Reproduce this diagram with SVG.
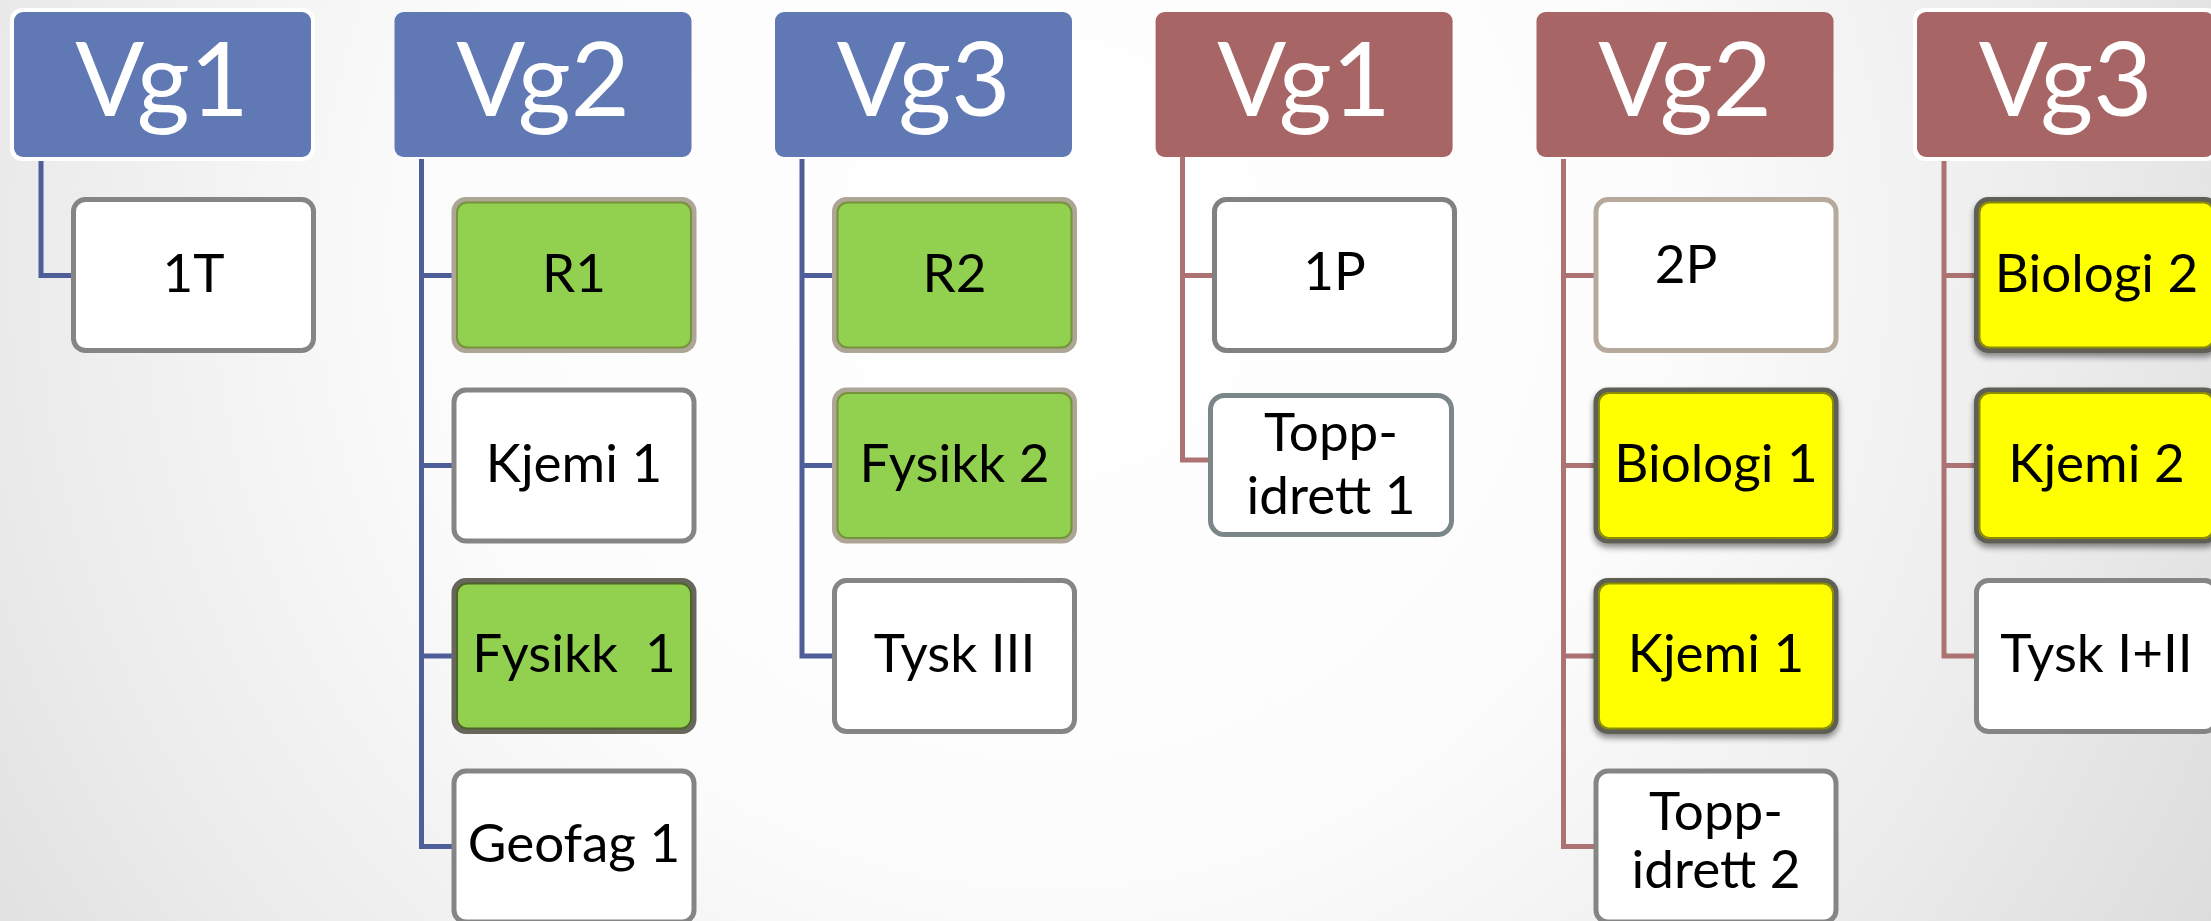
<svg xmlns="http://www.w3.org/2000/svg" width="2211" height="921" viewBox="0 0 2211 921">
<defs>
<radialGradient id="bg" gradientUnits="userSpaceOnUse" cx="1050" cy="260" r="1350">
<stop offset="0" stop-color="#ffffff"/>
<stop offset="0.45" stop-color="#fcfcfc"/>
<stop offset="0.75" stop-color="#ececec"/>
<stop offset="1" stop-color="#dcdcdc"/>
</radialGradient>
<filter id="sh" x="-10%" y="-10%" width="120%" height="130%">
<feGaussianBlur in="SourceAlpha" stdDeviation="3"/>
<feOffset dx="0" dy="4" result="b"/>
<feComponentTransfer><feFuncA type="linear" slope="0.45"/></feComponentTransfer>
<feMerge><feMergeNode/><feMergeNode in="SourceGraphic"/></feMerge>
</filter>
</defs>
<style>
.hb{fill:#6078b4}
.hr{fill:#a86565}
.glow{fill:#ffffff}
.ht{font-family:Lato,"Liberation Sans",sans-serif;font-size:102px;fill:#ffffff;text-anchor:middle}
.t{font-family:Lato,"Liberation Sans",sans-serif;font-size:53px;fill:#000000;text-anchor:middle}
.w{fill:#ffffff;stroke:#858585;stroke-width:5}
.g{fill:#92d050;stroke:#ada595;stroke-width:5}
.gi{fill:none;stroke:#76923c;stroke-width:2}
.y{fill:#ffff00;stroke:#5e5e55;stroke-width:5}
.yi{fill:none;stroke:#8c8c00;stroke-width:2}
.cb{fill:none;stroke:#4e5e99;stroke-width:5}
.cr{fill:none;stroke:#ad7373;stroke-width:5}
</style>
<rect x="0" y="0" width="2211" height="921" fill="url(#bg)"/>

<g id="connectors">
<path class="cb" d="M41 159 V275.5 H73"/>
<path class="cb" d="M421.5 159 V847 M419 275.5 H453 M419 465.5 H453 M419 656 H453 M419 846.5 H453"/>
<path class="cb" d="M802 159 V656.5 M799.5 275.5 H834 M799.5 465.5 H834 M799.5 656 H834"/>
<path class="cr" d="M1182.5 157 V460.5 M1180 275.5 H1214 M1180 460 H1210"/>
<path class="cr" d="M1563.5 159 V847 M1561 275.5 H1595 M1561 465.5 H1595 M1561 656 H1595 M1561 846.5 H1595"/>
<path class="cr" d="M1944 159 V656.5 M1941.5 275.5 H1976 M1941.5 465.5 H1976 M1941.5 656 H1976"/>
</g>

<g id="h-vg1-blue">
<rect class="glow" x="10" y="8" width="305" height="153" rx="12"/>
<rect class="hb" x="14" y="12" width="297" height="145" rx="9"/>
<text class="ht" x="162" y="116">Vg1</text>
</g>
<g id="h-vg2-blue">
<rect class="hb" x="394.5" y="12" width="297" height="145" rx="9"/>
<text class="ht" x="543" y="116">Vg2</text>
</g>
<g id="h-vg3-blue">
<rect class="hb" x="775" y="12" width="297" height="145" rx="9"/>
<text class="ht" x="923.5" y="116">Vg3</text>
</g>
<g id="h-vg1-red">
<rect class="hr" x="1155.6" y="12" width="297" height="145" rx="9"/>
<text class="ht" x="1304" y="116">Vg1</text>
</g>
<g id="h-vg2-red">
<rect class="hr" x="1536.5" y="12" width="297" height="145" rx="9"/>
<text class="ht" x="1685" y="116">Vg2</text>
</g>
<g id="h-vg3-red">
<rect class="glow" x="1913" y="8" width="305" height="153" rx="12"/>
<rect class="hr" x="1917" y="12" width="297" height="145" rx="9"/>
<text class="ht" x="2065.5" y="116">Vg3</text>
</g>

<g id="n-1T">
<rect class="w" x="73.5" y="199.5" width="240" height="151" rx="12"/>
<text class="t" x="193.5" y="292">1T</text>
</g>

<g id="n-R1">
<rect class="g" x="454" y="199.5" width="240" height="151" rx="12"/>
<rect class="gi" x="457" y="202.5" width="234" height="145" rx="10"/>
<text class="t" x="574" y="292">R1</text>
</g>
<g id="n-kjemi1-vg2">
<rect class="w" x="454" y="390" width="240" height="151" rx="12"/>
<text class="t" x="574" y="482">Kjemi 1</text>
</g>
<g id="n-fysikk1">
<rect class="g" x="454" y="580.5" width="240" height="151" rx="12" style="stroke:#66665c"/>
<rect class="gi" x="457" y="583.5" width="234" height="145" rx="10" style="stroke:#4f6228"/>
<text class="t" x="574" y="672" xml:space="preserve">Fysikk  1</text>
</g>
<g id="n-geofag1">
<rect class="w" x="454" y="771" width="240" height="151" rx="12"/>
<text class="t" x="574" y="862">Geofag 1</text>
</g>

<g id="n-R2">
<rect class="g" x="834.5" y="199.5" width="240" height="151" rx="12"/>
<rect class="gi" x="837.5" y="202.5" width="234" height="145" rx="10"/>
<text class="t" x="954.5" y="292">R2</text>
</g>
<g id="n-fysikk2">
<rect class="g" x="834.5" y="390" width="240" height="151" rx="12"/>
<rect class="gi" x="837.5" y="393" width="234" height="145" rx="10"/>
<text class="t" x="954.5" y="482">Fysikk 2</text>
</g>
<g id="n-tysk3">
<rect class="w" x="834.5" y="580.5" width="240" height="151" rx="12"/>
<text class="t" x="954.5" y="672">Tysk III</text>
</g>

<g id="n-1P">
<rect class="w" x="1214.5" y="199.5" width="240" height="151" rx="12" style="stroke:#808282"/>
<text class="t" x="1334.5" y="290">1P</text>
</g>
<g id="n-toppidrett1">
<rect class="w" x="1210.5" y="395.5" width="241" height="139" rx="14" style="stroke:#7b8689"/>
<text class="t" x="1331" y="451">Topp-</text>
<text class="t" x="1331" y="514">idrett 1</text>
</g>

<g id="n-2P">
<rect class="w" x="1596" y="199.5" width="240" height="151" rx="12" style="stroke:#b5aa9c"/>
<text class="t" x="1686" y="283">2P</text>
</g>
<g id="n-biologi1" filter="url(#sh)">
<rect class="y" x="1596" y="390" width="240" height="151" rx="12"/>
<rect class="yi" x="1599" y="393" width="234" height="145" rx="10"/>
<text class="t" x="1716" y="482">Biologi 1</text>
</g>
<g id="n-kjemi1-vg2r" filter="url(#sh)">
<rect class="y" x="1596" y="580.5" width="240" height="151" rx="12"/>
<rect class="yi" x="1599" y="583.5" width="234" height="145" rx="10"/>
<text class="t" x="1716" y="672">Kjemi 1</text>
</g>
<g id="n-toppidrett2">
<rect class="w" x="1596" y="771" width="240" height="151" rx="12"/>
<text class="t" x="1716" y="830">Topp-</text>
<text class="t" x="1716" y="888">idrett 2</text>
</g>

<g id="n-biologi2" filter="url(#sh)">
<rect class="y" x="1976.5" y="199.5" width="240" height="151" rx="12"/>
<rect class="yi" x="1979.5" y="202.5" width="234" height="145" rx="10"/>
<text class="t" x="2096.5" y="292">Biologi 2</text>
</g>
<g id="n-kjemi2" filter="url(#sh)">
<rect class="y" x="1976.5" y="390" width="240" height="151" rx="12"/>
<rect class="yi" x="1979.5" y="393" width="234" height="145" rx="10"/>
<text class="t" x="2096.5" y="482">Kjemi 2</text>
</g>
<g id="n-tysk12">
<rect class="w" x="1976.5" y="580.5" width="240" height="151" rx="12"/>
<text class="t" x="2096.5" y="672">Tysk I+II</text>
</g>
</svg>
